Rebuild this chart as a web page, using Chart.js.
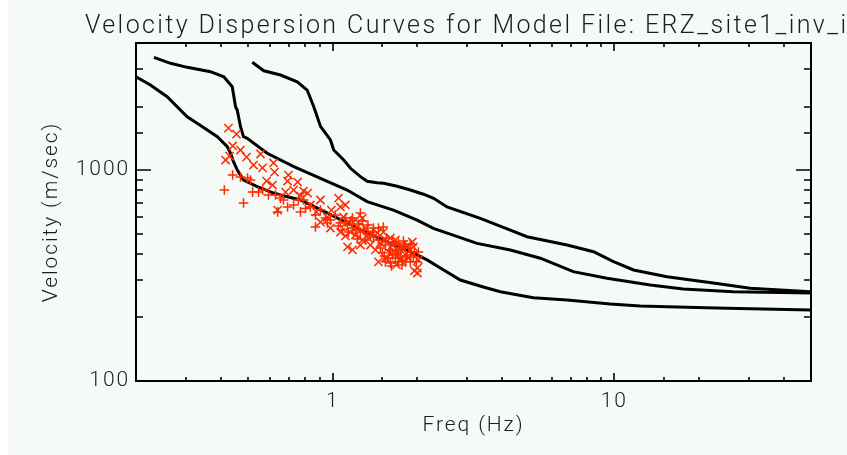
<!DOCTYPE html>
<html>
<head>
<meta charset="utf-8">
<script src="https://cdn.jsdelivr.net/npm/chart.js@4.4.1/dist/chart.umd.min.js"></script>
<style>
  html, body { margin: 0; padding: 0; background: #ffffff; }
  #wrap { width: 847px; height: 455px; background: linear-gradient(to right, #ffffff 8px, #f5faf7 8px); }
  canvas { display: block; }
</style>
</head>
<body>
<div id="wrap"><canvas id="dispersionChart" width="847" height="455"></canvas></div>
<script>
const chartTitle = 'Velocity Dispersion Curves for Model File: ERZ_site1_inv_i';
const xTitle = 'Freq (Hz)';
const yTitle = 'Velocity (m/sec)';
const xTickLabels = [1, 10];
const yTickLabels = [100, 1000];

// model curves (fundamental + higher modes)
const mode0Freq = [0.2, 0.225, 0.258, 0.304, 0.337, 0.389, 0.422, 0.433, 0.444, 0.458, 0.482, 0.539, 0.616, 0.652, 0.768, 0.955, 1.125, 1.325, 1.56, 1.837, 2.163, 2.411, 2.84, 3.427, 3.939, 5.159, 6.795, 9.68, 12.37, 16.7, 25.1, 50];
const mode0Vel = [2768, 2528, 2225, 1789, 1634, 1438, 1290, 1204, 1095, 1000, 897, 834, 778, 761, 721, 626, 561, 503, 457, 418, 375, 343, 301, 279, 265, 248, 242, 232, 227, 224, 221, 217];

const mode1Freq = [0.2315, 0.2653, 0.3041, 0.368, 0.4102, 0.4395, 0.4515, 0.4577, 0.4703, 0.4819, 0.4967, 0.5849, 0.7271, 0.9045, 1.125, 1.325, 1.643, 1.994, 2.278, 3.255, 4.274, 5.463, 7.152, 9.42, 13.42, 17.58, 26.45, 50];
const mode1Vel = [3421, 3204, 3067, 2924, 2768, 2482, 1995, 1925, 1604, 1438, 1413, 1200, 1037, 913, 804, 708, 646, 579, 529, 449, 418, 382, 330, 307, 285, 273, 265, 261];

const mode2Freq = [0.5175, 0.569, 0.6521, 0.7475, 0.8111, 0.8562, 0.9045, 0.9813, 1.008, 1.094, 1.156, 1.254, 1.325, 1.438, 1.517, 1.693, 1.887, 2.1, 2.283, 2.547, 3.344, 4.274, 4.899, 6.795, 8.445, 9.94, 11.71, 15.39, 23.15, 30.4, 50];
const mode2Vel = [3239, 2955, 2820, 2621, 2394, 1995, 1610, 1388, 1244, 1115, 1019, 930, 885, 870, 865, 838, 804, 768, 734, 668, 590, 519, 483, 441, 410, 368, 336, 312, 290, 275, 265];

// picked data, "+" symbols
const plusFreq = [0.441, 0.470, 0.498, 0.510, 0.412, 0.482, 0.519, 0.545, 0.637, 0.652, 0.726, 0.691, 0.787, 0.833, 0.868, 0.957, 1.065, 1.128, 1.254, 1.328, 1.395, 1.513, 1.395, 1.603, 1.783, 1.739, 1.934, 1.603, 1.670, 1.812, 1.887, 1.538, 1.204, 1.306, 1.156, 1.022, 0.904, 0.755, 0.591, 0.563, 0.626, 0.668, 0.768, 0.942, 1.109, 1.254, 1.453, 1.711, 1.857, 2.015, 1.630, 1.501, 1.361, 1.175, 1.082, 0.981, 0.868, 0.800, 1.670, 1.739, 1.812, 1.577, 1.763, 1.887, 1.538, 1.711, 1.476, 1.275, 1.224, 1.333,
  1.109, 1.175, 1.234, 1.285, 1.384, 1.453, 1.137, 1.048, 1.550, 1.630, 1.711, 1.797, 1.887, 1.950, 1.827, 1.697, 1.590, 1.525, 1.768, 1.982, 1.616];
const plusVel = [947, 926, 916, 897, 804, 698, 786, 786, 633, 736, 683, 668, 721, 668, 537, 561, 561, 549, 626, 503, 531, 537, 481, 418, 461, 387, 387, 362, 383, 367, 396, 441, 519, 466, 573, 612, 646, 721, 761, 804, 761, 721, 633, 592, 592, 508, 466, 418, 427, 409, 396, 405, 492, 531, 519, 579, 612, 657, 441, 427, 441, 383, 355, 367, 367, 367, 427, 573, 471, 549,
  567, 592, 555, 519, 508, 531, 508, 543, 476, 456, 451, 436, 446, 409, 391, 400, 418, 391, 375, 367, 351];

// picked data, "x" symbols
const crossFreq = [0.426, 0.455, 0.441, 0.470, 0.416, 0.430, 0.494, 0.523, 0.554, 0.563, 0.616, 0.621, 0.696, 0.691, 0.750, 0.787, 0.814, 0.904, 1.048, 1.065, 0.989, 0.957, 0.904, 1.091, 1.224, 1.128, 1.175, 1.441, 1.476, 1.603, 1.934, 1.999, 1.999, 1.950, 0.768, 0.833, 0.726, 0.680, 0.582, 0.611, 0.637, 0.875, 0.981, 1.156, 1.275, 1.361, 1.670, 1.739, 1.812, 1.887, 1.306, 1.204, 1.109, 1.538, 1.418, 1.630, 1.783, 1.538, 1.254, 1.857, 1.684, 1.109,
  1.137, 1.204, 1.338, 1.513, 1.670, 1.768, 1.918, 1.603, 1.453, 1.065, 1.275, 2.015];
const crossVel = [1580, 1480, 1300, 1244, 1115, 1165, 1152, 1056, 1191, 1023, 1080, 978, 947, 887, 877, 795, 778, 721, 736, 668, 646, 598, 567, 598, 537, 432, 418, 503, 451, 476, 432, 343, 325, 333, 753, 683, 804, 786, 887, 849, 646, 633, 531, 508, 466, 441, 409, 375, 396, 418, 531, 579, 487, 383, 418, 441, 418, 466, 441, 383, 355, 683,
  567, 492, 476, 508, 466, 427, 456, 400, 367, 508, 592, 375];

const toPoints = (xs, ys) => xs.map((x, i) => ({ x: x, y: ys[i] }));
const isDecade = v => Math.abs(Math.log10(v) - Math.round(Math.log10(v))) < 1e-6;

const labelFont = { family: 'Roboto, "DejaVu Sans", sans-serif', size: 21, weight: 300 };
const textColor = '#1c1c1c';
const red = '#ff2a00';

// the old plotting font is wide, so space the letters out a bit
const wideText = {
  id: 'wideText',
  beforeDraw(chart) { chart.ctx.letterSpacing = '1.9px'; }
};

// title + inward tick marks on all four sides, like the original plot
const frameTicks = {
  id: 'frameTicks',
  afterDatasetsDraw(chart) {
    const { ctx, chartArea: a, scales } = chart;
    ctx.save();
    ctx.strokeStyle = '#000';
    ctx.lineWidth = 1.6;
    ctx.beginPath();
    scales.x.ticks.forEach(t => {
      if (t.value <= scales.x.min || t.value >= scales.x.max) return;
      const px = Math.round(scales.x.getPixelForValue(t.value));
      const len = isDecade(t.value) ? 8 : 4;
      ctx.moveTo(px, a.bottom); ctx.lineTo(px, a.bottom - len);
      ctx.moveTo(px, a.top); ctx.lineTo(px, a.top + len);
    });
    scales.y.ticks.forEach(t => {
      if (t.value <= scales.y.min || t.value >= scales.y.max) return;
      const py = Math.round(scales.y.getPixelForValue(t.value));
      const len = isDecade(t.value) ? 15 : 7;
      ctx.moveTo(a.left, py); ctx.lineTo(a.left + len, py);
      ctx.moveTo(a.right, py); ctx.lineTo(a.right - len, py);
    });
    ctx.stroke();
    ctx.lineWidth = 2;
    ctx.strokeRect(a.left, a.top, a.right - a.left, a.bottom - a.top);

    ctx.font = '300 25px Roboto, "DejaVu Sans", sans-serif';
    ctx.letterSpacing = '2.4px';
    ctx.fillStyle = textColor;
    ctx.textAlign = 'left';
    ctx.textBaseline = 'alphabetic';
    ctx.fillText(chartTitle, a.left - 51, 33);
    ctx.restore();
  }
};

const ctx = document.getElementById('dispersionChart').getContext('2d');
const chart = new Chart(ctx, {
  type: 'line',
  data: {
    datasets: [
      { label: 'Picks +', data: toPoints(plusFreq, plusVel), showLine: false, pointStyle: 'cross', pointRadius: 4.8, borderColor: red, pointBorderWidth: 1.5, backgroundColor: red },
      { label: 'Picks x', data: toPoints(crossFreq, crossVel), showLine: false, pointStyle: 'crossRot', pointRadius: 5.8, borderColor: red, pointBorderWidth: 1.5, backgroundColor: red },
      { label: 'Mode 0', data: toPoints(mode0Freq, mode0Vel), borderColor: '#000', borderWidth: 3, pointRadius: 0, tension: 0 },
      { label: 'Mode 1', data: toPoints(mode1Freq, mode1Vel), borderColor: '#000', borderWidth: 3, pointRadius: 0, tension: 0 },
      { label: 'Mode 2', data: toPoints(mode2Freq, mode2Vel), borderColor: '#000', borderWidth: 3, pointRadius: 0, tension: 0 }
    ]
  },
  options: {
    responsive: false,
    animation: false,
    devicePixelRatio: 1,
    layout: { padding: { top: 43, right: 36, left: 0, bottom: 0 } },
    plugins: {
      legend: { display: false },
      tooltip: { enabled: false }
    },
    scales: {
      x: {
        type: 'logarithmic',
        min: 0.2, max: 50,
        grid: { display: false, drawTicks: false },
        border: { display: false },
        ticks: {
          autoSkip: false, maxRotation: 0, padding: 8,
          color: textColor, font: labelFont,
          callback: v => xTickLabels.includes(v) ? String(v) : ''
        },
        title: { display: true, text: xTitle, color: textColor, font: labelFont, padding: { top: 0, bottom: 17 } },
        afterFit: s => { s.height = 74; }
      },
      y: {
        type: 'logarithmic',
        min: 100, max: 4000,
        grid: { display: false, drawTicks: false },
        border: { display: false },
        ticks: {
          autoSkip: false, padding: 6,
          color: textColor, font: labelFont,
          callback: v => yTickLabels.includes(v) ? String(v) : ''
        },
        title: { display: true, text: yTitle, color: textColor, font: labelFont, padding: { top: 39, bottom: 0 } },
        afterFit: s => { s.width = 136; }
      }
    }
  },
  plugins: [wideText, frameTicks]
});
</script>
</body>
</html>
